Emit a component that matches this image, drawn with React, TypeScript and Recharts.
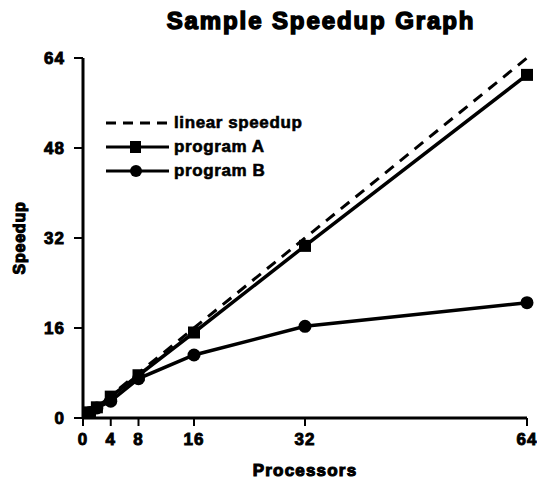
import { Label, Line, LineChart, XAxis, YAxis } from "recharts";

const processors = [1, 2, 4, 8, 16, 32, 64];
const linearSpeedup = [1, 2, 4, 8, 16, 32, 64];
const programA = [1, 1.9, 3.8, 7.6, 15.2, 30.6, 61];
const programB = [1, 1.8, 3, 7, 11.2, 16.3, 20.5];
const xTicks = [0, 4, 8, 16, 32, 64];
const yTicks = [0, 16, 32, 48, 64];

const data = processors.map((p, i) => ({
  p,
  linear: linearSpeedup[i],
  a: programA[i],
  b: programB[i],
}));

const font = "'Liberation Sans', Arial, sans-serif";
const heavy = { fontFamily: font, fontWeight: 700, fill: "#000", stroke: "#000", strokeWidth: 0.9 };

const SquareDot = (props: any) => {
  const { cx, cy, index } = props;
  return <rect key={`sq-${index}`} x={cx - 6} y={cy - 6} width={12} height={12} fill="#000" />;
};

const CircleDot = (props: any) => {
  const { cx, cy, index } = props;
  return <circle key={`ci-${index}`} cx={cx} cy={cy} r={6.5} fill="#000" />;
};

const legendRows = [
  { label: "linear speedup", kind: "dash" },
  { label: "program A", kind: "square" },
  { label: "program B", kind: "circle" },
];

// legend drawn as a plain overlay so it takes no room from the plot area
const ChartLegend = () => (
  <div
    style={{
      position: "absolute",
      left: 105,
      top: 111,
      fontFamily: font,
      fontWeight: 700,
      fontSize: 17,
      letterSpacing: 0.6,
      WebkitTextStroke: "0.6px #000",
    }}
  >
    {legendRows.map((r) => (
      <div key={r.label} style={{ display: "flex", alignItems: "center", height: 24 }}>
        <svg width={66} height={14}>
          {r.kind === "dash" ? (
            <line x1={1} y1={7} x2={64} y2={7} stroke="#000" strokeWidth={3} strokeDasharray="10 7" />
          ) : (
            <line x1={1} y1={7} x2={64} y2={7} stroke="#000" strokeWidth={3} />
          )}
          {r.kind === "square" && <rect x={25} y={1} width={11} height={12} fill="#000" />}
          {r.kind === "circle" && <circle cx={31} cy={7} r={6} fill="#000" />}
        </svg>
        <span style={{ marginLeft: 3 }}>{r.label}</span>
      </div>
    ))}
  </div>
);

const App = () => {
  return (
    <div style={{ position: "absolute", left: 0, top: 0, width: 537, height: 485, background: "#fff" }}>
      <LineChart
        width={537}
        height={485}
        data={data}
        margin={{ top: 58, right: 10, bottom: 27, left: 0 }}
      >
        <text x={321} y={29} textAnchor="middle" fontSize={24} letterSpacing={1.9} {...heavy} strokeWidth={1.5}>
          Sample Speedup Graph
        </text>
        <XAxis
          dataKey="p"
          type="number"
          domain={[0, 64]}
          ticks={xTicks}
          height={40}
          axisLine={{ stroke: "#000", strokeWidth: 3 }}
          tickLine={{ stroke: "#000", strokeWidth: 2 }}
          tickSize={8}
          tickMargin={7}
          tick={{ ...heavy, fontSize: 17, letterSpacing: 1 }}
        >
          <Label
            value="Processors"
            position="insideBottom"
            offset={-18}
            style={{ ...heavy, fontSize: 17, letterSpacing: 1.2, strokeWidth: 1.1 }}
          />
        </XAxis>
        <YAxis
          type="number"
          domain={[0, 64]}
          ticks={yTicks}
          width={83}
          axisLine={{ stroke: "#000", strokeWidth: 3 }}
          tickLine={{ stroke: "#000", strokeWidth: 2 }}
          tickSize={9}
          tickMargin={9}
          tick={{ ...heavy, fontSize: 17, letterSpacing: 1 }}
        >
          <Label
            value="Speedup"
            angle={-90}
            position="insideLeft"
            offset={19}
            style={{ ...heavy, fontSize: 16, letterSpacing: 0.8, strokeWidth: 1.1, textAnchor: "middle" }}
          />
        </YAxis>
        <Line
          dataKey="linear"
          stroke="#000"
          strokeWidth={3}
          strokeDasharray="11 8"
          dot={false}
          type="linear"
          isAnimationActive={false}
        />
        <Line
          dataKey="a"
          stroke="#000"
          strokeWidth={3.5}
          dot={SquareDot}
          type="linear"
          isAnimationActive={false}
        />
        <Line
          dataKey="b"
          stroke="#000"
          strokeWidth={3.5}
          dot={CircleDot}
          type="linear"
          isAnimationActive={false}
        />
      </LineChart>
      <ChartLegend />
    </div>
  );
};

export default App;
